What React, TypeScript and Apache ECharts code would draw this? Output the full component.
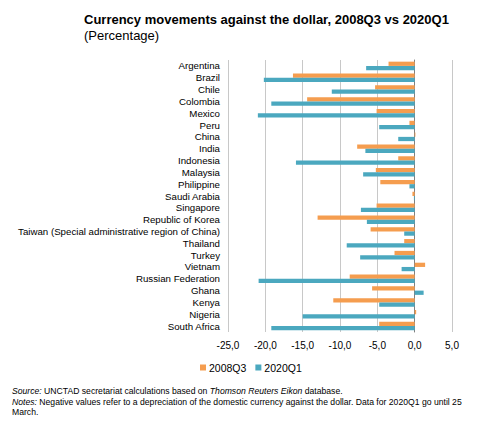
import React, { useEffect, useRef } from "react";
import * as echarts from "echarts";

const categories = [
  "Argentina",
  "Brazil",
  "Chile",
  "Colombia",
  "Mexico",
  "Peru",
  "China",
  "India",
  "Indonesia",
  "Malaysia",
  "Philippine",
  "Saudi Arabia",
  "Singapore",
  "Republic of Korea",
  "Taiwan (Special administrative region of China)",
  "Thailand",
  "Turkey",
  "Vietnam",
  "Russian Federation",
  "Ghana",
  "Kenya",
  "Nigeria",
  "South Africa",
];

const values2008Q3 = [
  -3.5, -16.3, -5.3, -14.4, -5.1, -0.7, 0.1, -7.7, -2.2, -5.2, -4.6, -0.3, -5.1,
  -13.0, -5.9, -1.4, -2.7, 1.4, -8.7, -5.7, -10.9, 0.2, -4.75,
];

const values2020Q1 = [
  -6.5, -20.2, -11.1, -19.2, -21.0, -4.75, -2.2, -6.6, -15.9, -6.9, -0.7, -0.1,
  -7.2, -6.4, -1.4, -9.1, -7.3, -1.75, -20.9, 1.2, -4.75, -15.0, -19.2,
];

const seriesNames = ["2008Q3", "2020Q1"];
const colors = ["#F59D4F", "#4BA8BF"];

const FONT = "'Liberation Sans', Arial, sans-serif";

export default function App() {
  const ref = useRef<HTMLDivElement>(null);

  useEffect(() => {
    document.body.style.margin = "0";
    const chart = echarts.init(ref.current!, null, { renderer: "svg" });
    chart.setOption({
      animation: false,
      textStyle: { fontFamily: FONT },
      graphic: [
        {
          type: "text",
          left: 84,
          top: 13,
          style: {
            text: "Currency movements against the dollar, 2008Q3 vs 2020Q1",
            font: `bold 13px ${FONT}`,
            fill: "#000",
          },
        },
        {
          type: "text",
          left: 84,
          top: 29,
          style: {
            text: "(Percentage)",
            font: `13px ${FONT}`,
            fill: "#000",
          },
        },
        {
          type: "text",
          left: 12,
          top: 386,
          style: {
            text:
              "{i|Source:} UNCTAD secretariat calculations based on {i|Thomson Reuters Eikon} database.\n{i|Notes:} Negative values refer to a depreciation of the domestic currency against the dollar. Data for 2020Q1 go until 25\nMarch.",
            font: `8.65px ${FONT}`,
            lineHeight: 10.5,
            fill: "#000",
            rich: {
              i: { fontStyle: "italic", fontSize: 8.65, fontFamily: FONT },
            },
          },
        },
      ],
      legend: {
        left: 195,
        top: 357,
        itemWidth: 6,
        itemHeight: 6,
        itemGap: 9,
        icon: "rect",
        textStyle: { fontSize: 10.5, color: "#000", fontFamily: FONT, padding: [0, 0, 0, -2] },
        data: seriesNames,
      },
      grid: { left: 228, right: 28, top: 60, bottom: 93 },
      xAxis: {
        type: "value",
        min: -25,
        max: 5,
        interval: 5,
        axisLine: { show: false },
        axisTick: { show: false },
        splitLine: { show: true, lineStyle: { color: "#c8c8c8", width: 1 } },
        axisLabel: {
          color: "#000",
          fontSize: 10,
          fontFamily: FONT,
          margin: 8,
          formatter: (v: number) => v.toFixed(1).replace(".", ","),
        },
      },
      yAxis: {
        type: "category",
        inverse: true,
        data: categories,
        axisLine: { show: true, onZero: true, lineStyle: { color: "#808080", width: 1 } },
        axisTick: { show: false },
        axisLabel: { color: "#000", fontSize: 9.7, fontFamily: FONT, margin: 8, interval: 0 },
      },
      series: [
        {
          name: seriesNames[0],
          type: "bar",
          data: values2008Q3,
          itemStyle: { color: colors[0] },
          barGap: "0%",
          barCategoryGap: "28%",
        },
        {
          name: seriesNames[1],
          type: "bar",
          data: values2020Q1,
          itemStyle: { color: colors[1] },
          barGap: "0%",
          barCategoryGap: "28%",
        },
      ],
    });
    return () => chart.dispose();
  }, []);

  return <div ref={ref} style={{ width: 480, height: 425 }} />;
}
